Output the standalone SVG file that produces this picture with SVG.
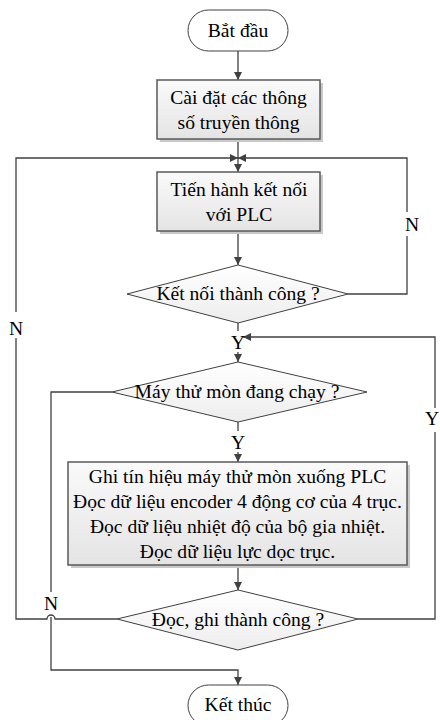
<svg xmlns="http://www.w3.org/2000/svg" width="440" height="720" viewBox="0 0 440 720">
<defs>
<linearGradient id="gBox" x1="0" y1="0" x2="0" y2="1">
<stop offset="0" stop-color="#fafafa"/>
<stop offset="1" stop-color="#e4e4e4"/>
</linearGradient>
<linearGradient id="gDia" x1="0" y1="0" x2="0" y2="1">
<stop offset="0" stop-color="#ffffff"/>
<stop offset="1" stop-color="#ededed"/>
</linearGradient>
<marker id="arr" viewBox="0 0 10 10" refX="10" refY="5" markerWidth="8" markerHeight="8" markerUnits="userSpaceOnUse" orient="auto">
<path d="M0,0 L10,5 L0,10 z" fill="#404040"/>
</marker>
</defs>
<style>
text{font-family:"Liberation Serif","Times New Roman",serif;font-size:19.6px;fill:#000;text-anchor:middle}
.box{fill:url(#gBox);stroke:#5a5a5a;stroke-width:1.5}
.sh{fill:#c9c9c9}
.term{fill:#ffffff;stroke:#404040;stroke-width:1}
.dia{fill:url(#gDia);stroke:#404040;stroke-width:1}
.c{fill:none;stroke:#404040;stroke-width:1.3}
.bg{fill:#ffffff}
</style>

<g id="connectors">
<path class="c" d="M238,51 V80" marker-end="url(#arr)"/>
<path class="c" d="M238,139 V158"/>
<path class="c" d="M238,158 V172" marker-end="url(#arr)"/>
<path class="c" d="M238,231 V265" marker-end="url(#arr)"/>
<path class="c" d="M348,294 H407 V158 H238" marker-end="url(#arr)"/>
<path class="c" d="M117,619 H55 A4,4 0 0 0 47,619 H16 V158 H238" marker-end="url(#arr)"/>
<path class="c" d="M238,323 V331"/>
<path class="c" d="M238,352 V362" marker-end="url(#arr)"/>
<path class="c" d="M358,619 H435 V337 H243" marker-end="url(#arr)"/>
<path class="c" d="M112,392 H51 V592"/>
<path class="c" d="M51,617 V670 H238 V685" marker-end="url(#arr)"/>
<path class="c" d="M238,422 V431"/>
<path class="c" d="M238,452 V462" marker-end="url(#arr)"/>
<path class="c" d="M238,565 V590" marker-end="url(#arr)"/>
</g>

<g id="labels">
<rect class="bg" x="402" y="212" width="20" height="24"/>
<text x="412" y="231">N</text>
<rect class="bg" x="6" y="312" width="20" height="26"/>
<text x="16" y="335">N</text>
<text x="238" y="349">Y</text>
<rect class="bg" x="425" y="408" width="18" height="24"/>
<text x="432" y="425">Y</text>
<text x="238" y="449">Y</text>
<text x="51" y="610">N</text>
</g>

<g id="start">
<rect class="term" x="188" y="10" width="100" height="41" rx="20.5"/>
<text x="238" y="37">Bắt đầu</text>
</g>

<g id="setup">
<rect class="sh" x="160" y="83" width="163" height="59"/>
<rect class="box" x="157" y="80" width="163" height="59"/>
<text x="238.5" y="104">Cài đặt các thông</text>
<text x="238.5" y="129">số truyền thông</text>
</g>

<g id="connect">
<rect class="sh" x="160" y="175" width="163" height="59"/>
<rect class="box" x="157" y="172" width="163" height="59"/>
<text x="239" y="196">Tiến hành kết nối</text>
<text x="239" y="221">với PLC</text>
</g>

<g id="check-connect">
<polygon class="dia" points="127,294 238,265 348,294 238,323"/>
<text x="238" y="300">Kết nối thành công ?</text>
</g>

<g id="check-running">
<polygon class="dia" points="112,392 238,362 367,392 238,422"/>
<text x="237" y="398">Máy thử mòn đang chạy ?</text>
</g>

<g id="read-write">
<rect class="sh" x="71" y="465" width="339" height="103"/>
<rect class="box" x="68" y="462" width="339" height="103"/>
<text x="237.5" y="483">Ghi tín hiệu máy thử mòn xuống PLC</text>
<text x="237.5" y="508">Đọc dữ liệu encoder 4 động cơ của 4 trục.</text>
<text x="237.5" y="533">Đọc dữ liệu nhiệt độ của bộ gia nhiệt.</text>
<text x="237.5" y="558">Đọc dữ liệu lực dọc trục.</text>
</g>

<g id="check-rw">
<polygon class="dia" points="117,619 238,590 358,619 238,650"/>
<text x="238" y="626">Đọc, ghi thành công ?</text>
</g>

<g id="end">
<rect class="term" x="188" y="685" width="100" height="41" rx="20.5"/>
<text x="238" y="711">Kết thúc</text>
</g>
</svg>
